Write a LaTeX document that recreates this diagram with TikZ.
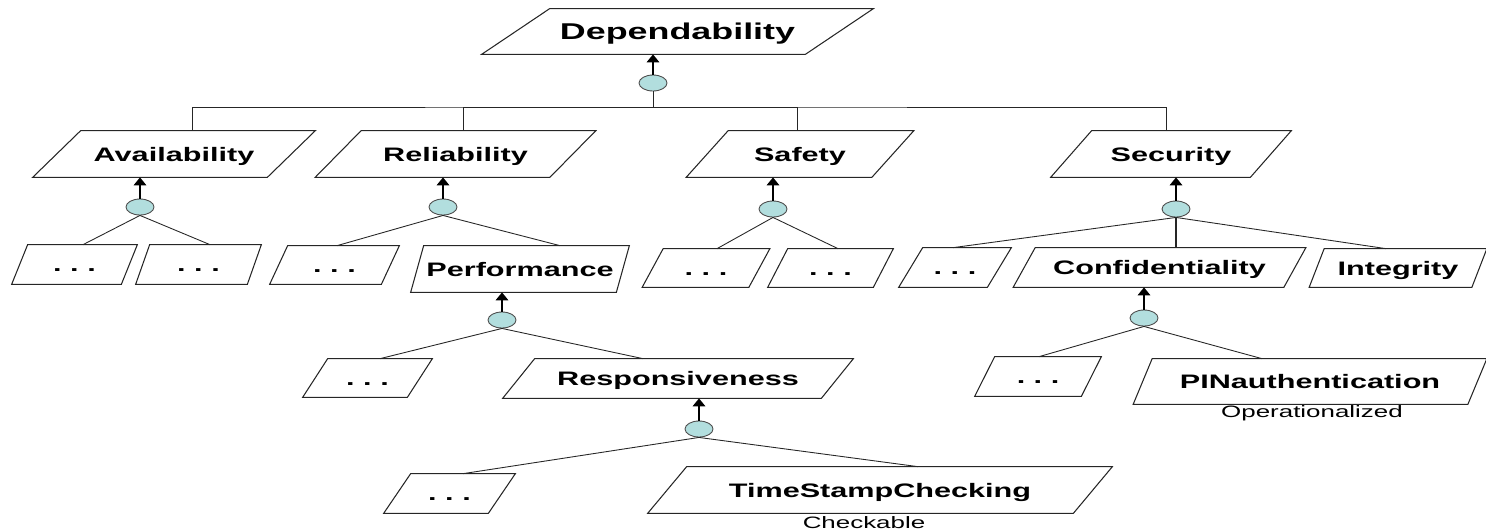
\documentclass[tikz,border=0pt]{standalone}
\usepackage{fontspec}
\setmainfont{Liberation Sans}
\newfontfamily\goalfont[FakeStretch=1.57]{Liberation Sans Bold}
\newfontfamily\notefont[FakeStretch=1.57]{Liberation Sans}
\usetikzlibrary{shapes.geometric,arrows.meta,calc}

\definecolor{andfill}{RGB}{178,222,222}

\tikzset{
  goalline/.style={draw=black!85, line width=0.6pt},
  % parallelogram: edge length, height, slant (all in px)
  para/.style n args={3}{rectangle, minimum width=#1*0.02cm, minimum height=#2*0.02cm,
    append after command={\pgfextra{%
      \draw[goalline] ($(\tikzlastnode.south west)+(-#3/2,0)$) -- ($(\tikzlastnode.south east)+(-#3/2,0)$)
        -- ($(\tikzlastnode.north east)+(#3/2,0)$) -- ($(\tikzlastnode.north west)+(#3/2,0)$) -- cycle;}}},
  goal/.style={inner sep=0pt, font={\goalfont\fontsize{11.1}{13}\selectfont}, text height=8pt, text depth=0pt},
  note/.style={inner sep=0pt, font={\notefont\fontsize{9.4}{11}\selectfont}},
  andnode/.style={ellipse, draw=black!70, line width=0.5pt, fill=andfill,
    minimum width=0.56cm, minimum height=0.32cm, inner sep=0pt},
  link/.style={black!85, line width=0.5pt},
  arr/.style={-{Triangle[width=7pt,length=4.5pt]}, line width=1.1pt}
}

\begin{document}
\begin{tikzpicture}[x=0.02cm, y=-0.02cm]
  \useasboundingbox (0,0) rectangle (1486,531);

  % root
  \node[goal, para={323}{45}{68}, font={\goalfont\fontsize{13}{15}\selectfont}, text height=9.3pt] (dep) at (677.5,31.5) {Dependability};
  \node[andnode] (cdep) at (653,83) {};
  \coordinate (bus) at (653,107);

  % first level
  \node[goal, para={234}{46}{48}] (avail) at (174,154) {Availability};
  \node[goal, para={234}{46}{46}] (rel) at (455.5,154) {Reliability};
  \node[goal, para={185}{46}{42}] (safe) at (800,154) {Safety};
  \node[goal, para={199}{46}{41}] (secu) at (1171,154) {Security};

  \node[andnode] (cav) at (140,207) {};
  \node[andnode] (crel) at (443,207) {};
  \node[andnode] (csaf) at (773,209) {};
  \node[andnode] (csec) at (1176,209) {};

  % second level
  \node[goal, para={109}{39}{16}] (av1) at (74.5,264.5) {.~.~.};
  \node[goal, para={111}{39}{14}] (av2) at (198.5,264.5) {.~.~.};
  \node[goal, para={111}{38}{18}] (rel1) at (334.5,265) {.~.~.};
  \node[goal, para={205}{46}{13}] (perf) at (520,269) {Performance};
  \node[goal, para={106}{38}{21}] (saf1) at (706,268) {.~.~.};
  \node[goal, para={105}{38}{20}] (saf2) at (830.5,268) {.~.~.};
  \node[goal, para={88}{39}{24}] (sec1) at (955,267.5) {.~.~.};
  \node[goal, para={270}{39}{22}] (conf) at (1159.5,267.5) {Confidentiality};
  \node[goal, para={162}{38}{15}] (integ) at (1398,268) {Integrity};

  \node[andnode] (cperf) at (502,320) {};
  \node[andnode] (cconf) at (1144,318) {};

  % third level
  \node[goal, para={104}{38}{25}] (perf1) at (367.5,378) {.~.~.};
  \node[goal, para={318}{39}{32}] (resp) at (678,378.5) {Responsiveness};
  \node[goal, para={106}{39}{20}] (conf1) at (1038,376.5) {.~.~.};
  \node[goal, para={334}{45}{19}] (pin) at (1310,381.5) {PINauthentication};
  \node[note] (oper) at (1312,413) {Operationalized};

  \node[andnode] (cresp) at (699,429) {};

  % fourth level
  \node[goal, para={104}{39}{27}] (resp1) at (449.5,493.5) {.~.~.};
  \node[goal, para={425}{46}{39}] (tsc) at (880,490) {TimeStampChecking};
  \node[note] (chk) at (864,523) {Checkable};

  % root decomposition
  \draw[arr] (cdep.north) -- (cdep.north |- dep.south);
  \draw[link] (cdep.south) -- (bus);
  \draw[link] ($(avail.north)+(18,0)$) |- (bus) -| ($(secu.north)+(-5,0)$);
  \draw[link] ($(rel.north)+(7.5,0)$) |- (bus);
  \draw[link] ($(safe.north)+(-3,0)$) |- (bus);

  % contributions up to the first level
  \draw[arr] (cav.north) -- (cav.north |- avail.south);
  \draw[arr] (crel.north) -- (crel.north |- rel.south);
  \draw[arr] (csaf.north) -- (csaf.north |- safe.south);
  \draw[arr] (csec.north) -- (csec.north |- secu.south);

  \draw[link] (cav.south) -- ($(av1.north)+(8.5,0)$);
  \draw[link] (cav.south) -- ($(av2.north)+(11.5,0)$);
  \draw[link] (crel.south) -- ($(rel1.north)+(2.5,0)$);
  \draw[link] (crel.south) -- ($(perf.north)+(40,0)$);
  \draw[link] (csaf.south) -- ($(saf1.north)+(11,0)$);
  \draw[link] (csaf.south) -- ($(saf2.north)+(7.5,0)$);
  \draw[link] (csec.south) -- ($(sec1.north)+(-2,0)$);
  \draw[link, line width=0.8pt] (csec.south) -- (csec.south |- conf.north);
  \draw[link] (csec.south) -- ($(integ.north)+(-12,0)$);

  % deeper refinements
  \draw[arr] (cperf.north) -- (cperf.north |- perf.south);
  \draw[arr] (cconf.north) -- (cconf.north |- conf.south);
  \draw[link] (cperf.south) -- ($(perf1.north)+(12.5,0)$);
  \draw[link] (cperf.south) -- ($(resp.north)+(-35,0)$);
  \draw[link] (cconf.south) -- ($(conf1.north)+(1,0)$);
  \draw[link] (cconf.south) -- ($(pin.north)+(-48,0)$);

  \draw[arr] (cresp.north) -- (cresp.north |- resp.south);
  \draw[link] (cresp.south) -- ($(resp1.north)+(13.5,0)$);
  \draw[link] (cresp.south) -- ($(tsc.north)+(38,0)$);

\end{tikzpicture}
\end{document}
